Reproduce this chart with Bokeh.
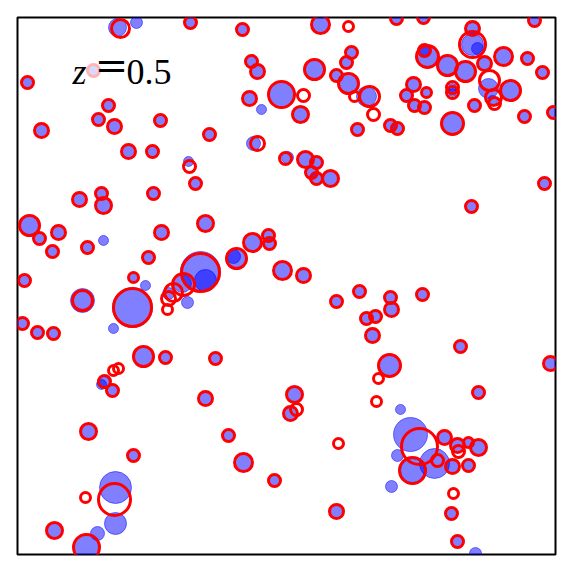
from bokeh.plotting import figure
from bokeh.models import Range1d, ColumnDataSource
from bokeh.core.properties import value
from bokeh.embed import file_html
from bokeh.resources import INLINE

# Blue filled halos (x, y, radius) in box units
blue_x = [117,136,190,93,27,108,98,114,160,41,128,152,188,195,242,320,251,257,314,351,346,336,348,281,249,261,300,366,357,209,253,287,305,316,311,316,330,
          396,423,534,472,472,477,424,427,447,465,484,503,527,542,488,492,510,413,406,426,452,452,414,424,474,524,553,452,390,397,544,471,
          79,101,103,153,29,39,58,103,87,52,161,148,24,133,145,82,132,113,22,37,53,143,165,
          205,252,268,269,236,233,200,205,182,168,187,282,303,336,359,366,375,372,215,
          390,391,422,460,389,550,
          103,101,112,88,133,115,115,54,97,86,
          205,294,290,228,243,274,336,
          478,400,410,397,434,412,444,457,468,478,452,468,391,451,457,475]
blue_y = [27,22,22,70,82,105,119,126,120,130,151,151,161,183,29,24,61,71,69,52,62,75,83,94,98,109,114,96,129,134,143,157,159,162,172,178,178,
          18,17,20,28,44,48,50,56,65,71,63,56,58,72,88,100,90,84,95,92,87,92,105,107,105,116,112,123,125,128,183,206,
          199,193,205,193,225,238,232,240,247,251,232,257,280,277,285,300,307,328,323,332,333,356,357,
          223,242,235,243,258,256,271,280,283,293,302,270,275,301,291,318,316,335,358,
          297,309,294,346,365,363,
          382,384,390,431,455,487,523,530,533,547,
          398,394,413,435,462,480,511,
          392,409,434,455,463,470,437,445,442,447,466,465,486,513,541,553]
blue_r = [9,6,5,6,6,6,6,7,6,7,7,6,5,6,6,9,6,7,10,6,6,6,10,13,7,5,8,10,6,6,7,6,8,6,6,6,8,
          6,6,6,6,11,6,5,11,10,10,7,9,6,6,10,5,10,7,6,5,4,4,6,6,6,6,6,11,6,6,6,6,
          7,6,8,6,10,6,7,5,6,6,7,6,6,5,5,12,20,5,6,6,6,10,6,
          8,9,6,6,10,7,20,11,9,6,6,9,7,6,6,6,6,7,6,
          6,7,6,6,11,7,
          6,5,6,8,6,16,11,8,7,13,
          7,8,7,6,9,6,7,
          6,5,17,6,15,12,7,7,5,8,7,6,6,6,6,6]

# Red halos (x, y, radius) in box units
red_x = [120,190,242,320,348,93,27,108,98,114,160,41,128,152,189,195,251,257,314,351,346,336,348,281,303,249,300,354,369,373,357,209,257,285,305,316,311,316,330,
         396,423,534,472,472,424,427,447,465,484,503,527,542,489,493,494,510,413,406,426,452,452,414,424,474,524,553,452,390,397,544,471,
         79,101,103,153,29,39,58,87,52,161,148,24,133,82,132,22,37,53,143,165,
         205,252,268,269,236,200,183,173,168,167,282,303,336,359,366,375,372,215,
         390,391,422,460,389,550,378,
         113,118,104,112,88,133,114,85,54,86,
         205,294,296,290,228,338,243,274,336,376,
         478,419,412,444,457,468,478,458,437,452,468,453,451,457]
red_y = [28,22,29,24,26,70,82,105,119,126,120,130,151,151,166,183,61,71,69,52,62,75,83,94,95,98,114,96,96,114,129,134,143,158,159,162,172,178,178,
         18,17,20,28,44,50,56,65,71,63,56,58,72,80,97,103,90,84,95,92,87,92,105,107,105,116,112,123,125,128,183,206,
         199,193,205,193,225,238,232,247,251,232,257,280,277,300,307,323,332,333,356,357,
         223,242,235,243,258,272,284,292,298,309,270,275,301,291,318,316,335,358,
         297,309,294,346,365,363,378,
         370,368,381,390,431,455,499,497,530,547,
         398,394,409,413,435,443,462,480,511,401,
         392,446,470,437,445,442,447,451,460,466,465,493,513,541]
red_r = [9,6,6,9,5,6,6,6,6,7,6,7,7,6,6,6,6,7,10,6,6,6,10,13,6,7,8,5,10,6,6,6,7,6,8,6,6,6,8,
         6,6,6,7,13,6,11,10,10,7,9,6,6,10,8,6,10,7,6,5,6,6,6,6,6,6,6,11,6,6,6,6,
         7,6,8,6,10,6,7,6,6,7,6,6,5,10,19,6,6,6,10,6,
         8,9,6,6,10,19,11,9,7,5,9,7,6,6,6,6,7,6,
         6,7,6,6,11,7,5,
         5,5,6,6,8,6,16,5,8,13,
         7,8,6,7,6,5,9,6,7,5,
         6,18,13,7,7,5,8,6,6,7,6,5,6,6]

label_z = "z"
label_eq = "="
label_val = "0.5"

p = figure(width=564, height=564, output_backend="svg", toolbar_location=None,
           x_range=Range1d(17, 555), y_range=Range1d(554, 17),
           x_axis_location=None, y_axis_location=None,
           frame_width=538, frame_height=537,
           min_border_left=17, min_border_right=9, min_border_top=17, min_border_bottom=10)
p.grid.visible = False
p.outline_line_color = "black"
p.outline_line_width = 2
p.background_fill_color = "white"
p.border_fill_color = "white"

bsrc = ColumnDataSource(dict(x=blue_x, y=blue_y, r=blue_r))
rsrc = ColumnDataSource(dict(x=red_x, y=red_y, r=red_r))
p.circle(x="x", y="y", radius="r", source=bsrc, fill_color="blue", fill_alpha=0.5,
         line_color="blue", line_alpha=0.5, line_width=1)
p.circle(x="x", y="y", radius="r", source=rsrc, fill_color=None,
         line_color="red", line_width=3)

# semi-transparent label box
p.quad(left=[66], right=[184], top=[40], bottom=[82], fill_color="white", fill_alpha=0.7, line_color=None)
p.text(x=[72], y=[71], text=[label_z], text_font=value("Liberation Serif"), text_font_style="italic",
       text_font_size="36px", text_baseline="alphabetic", text_color="black")
p.text(x=[111], y=[64], text=[label_eq], text_font=value("DejaVu Serif"), text_align="center",
       text_font_size="40px", text_font_style="normal", text_baseline="middle", text_color="black")
p.text(x=[126], y=[71], text=[label_val], text_font=value("Liberation Serif"),
       text_font_size="36px", text_baseline="alphabetic", text_color="black")

open("out.html", "w").write(file_html(p, INLINE))
